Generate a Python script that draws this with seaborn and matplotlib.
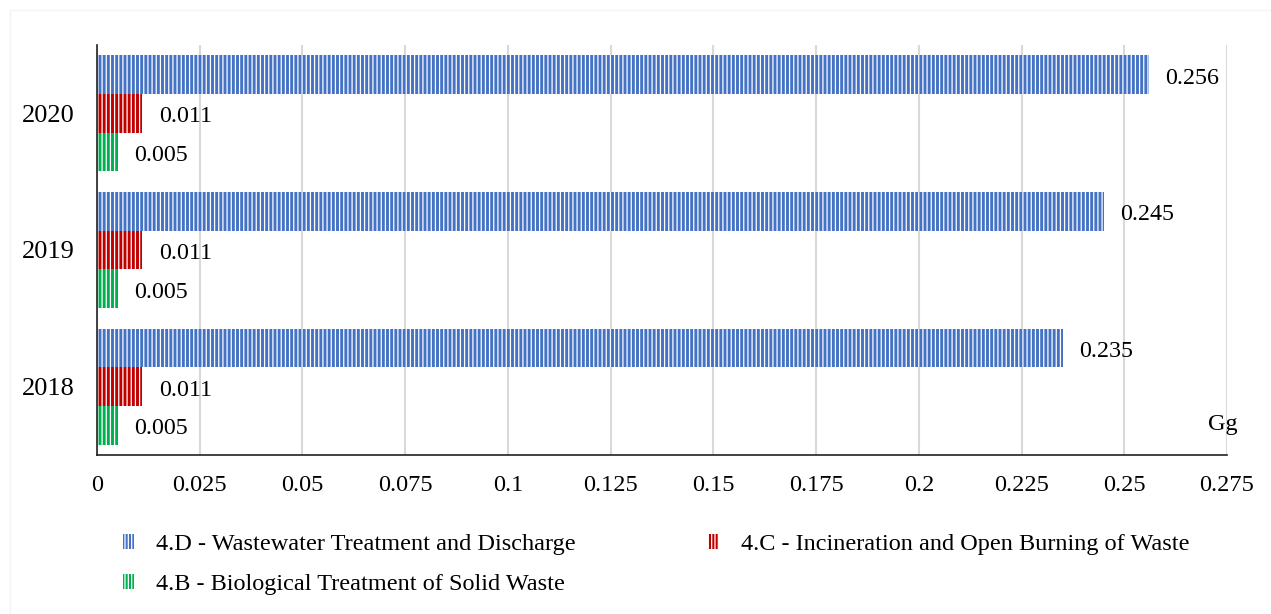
import matplotlib
matplotlib.use("Agg")
import matplotlib.pyplot as plt
from matplotlib.patches import Patch, Rectangle
import seaborn as sns
import pandas as pd

# Emissions by waste sub-category (Gg)
years = ["2020", "2019", "2018"]
categories = [
    "4.D - Wastewater Treatment and Discharge",
    "4.C - Incineration and Open Burning of Waste",
    "4.B - Biological Treatment of Solid Waste",
]
wastewater = [0.256, 0.245, 0.235]
incineration = [0.011, 0.011, 0.011]
biological = [0.005, 0.005, 0.005]
colors = ["#4472C4", "#C00000", "#00B050"]
x_ticks = [0, 0.025, 0.05, 0.075, 0.1, 0.125, 0.15, 0.175, 0.2, 0.225, 0.25, 0.275]
x_tick_labels = ["0", "0.025", "0.05", "0.075", "0.1", "0.125", "0.15",
                 "0.175", "0.2", "0.225", "0.25", "0.275"]
unit = "Gg"

rows = []
for cat, vals in zip(categories, [wastewater, incineration, biological]):
    for y, v in zip(years, vals):
        rows.append({"year": y, "category": cat, "value": v})
df = pd.DataFrame(rows)

sns.set_theme(style="white")
plt.rcParams["font.family"] = ["Liberation Serif", "DejaVu Serif"]
plt.rcParams["hatch.linewidth"] = 0.9
plt.rcParams["text.color"] = "black"
plt.rcParams["xtick.color"] = "black"
plt.rcParams["ytick.color"] = "black"

fig = plt.figure(figsize=(12.71, 6.14), dpi=100)
ax = fig.add_axes([97 / 1271, 1 - 455 / 614, 1130 / 1271, 410 / 614])

sns.barplot(data=df, x="value", y="year", hue="category", order=years,
            hue_order=categories, palette=colors, orient="h", width=0.85,
            dodge=True, legend=False, ax=ax, saturation=1)

# striped fill: white hatch lines over the coloured face
for container in ax.containers:
    for bar in container:
        bar.set_edgecolor("white")
        bar.set_linewidth(0)
        bar.set_hatch("||||")

for container in ax.containers:
    labels = [f"{v:.3f}" for v in container.datavalues]
    texts = ax.bar_label(container, labels=labels, padding=12, fontsize=17.3,
                         color="black")
    for t in texts:
        t.xyann = (12, -2.6)

ax.set_xlim(0, 0.275)
ax.set_ylim(2.5, -0.5)
ax.set_xticks(x_ticks)
ax.set_xticklabels(x_tick_labels, fontsize=17.5)
ax.set_yticks(range(len(years)))
ax.set_yticklabels(years, fontsize=19)
ax.set_yticks([-0.5, 0.5, 1.5, 2.5], minor=True)
ax.tick_params(axis="y", which="major", length=0, pad=16)
ax.tick_params(axis="y", which="minor", length=6, width=1.2, color="#222222", direction="out")
ax.tick_params(axis="x", which="major", length=6, width=1.2, color="#222222",
               direction="out", pad=8.5)
ax.set_xlabel("")
ax.set_ylabel("")
ax.grid(axis="x", color="#d9d9d9", linewidth=1.5)
ax.set_axisbelow(True)
for side in ["top", "right"]:
    ax.spines[side].set_visible(False)
for side in ["left", "bottom"]:
    ax.spines[side].set_color("#222222")
    ax.spines[side].set_linewidth(1.2)

ax.text(0.2739, 2.28, unit, ha="center", va="center", fontsize=17.5)

# legend laid out row by row: D, C on the first row, B below D
legend_order = [0, 2, 1]
handles = [Patch(facecolor=colors[i], edgecolor="white", linewidth=0, hatch="|||||")
           for i in legend_order]
labels = [categories[i] for i in legend_order]
fig.legend(handles, labels, loc="upper left", bbox_to_anchor=(101 / 1271, 1 - 512 / 614),
           ncol=2, frameon=False, fontsize=17.5, handlelength=0.45, handleheight=0.55,
           handletextpad=0.92, columnspacing=5.43, labelspacing=0.78)

fig.patches.append(Rectangle((10 / 1271, -0.02), 1.1, 1 - 10 / 614 + 0.02,
                             transform=fig.transFigure, fill=False,
                             edgecolor="#f3f3f3", linewidth=1))

fig.savefig("out.png", dpi=100)
